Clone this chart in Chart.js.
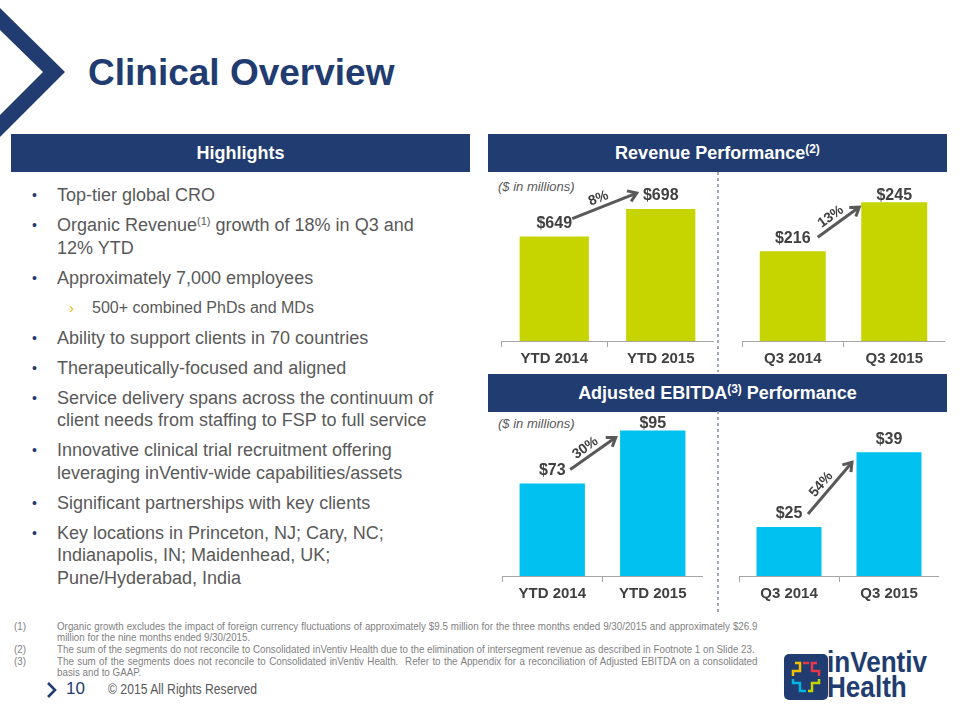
<!DOCTYPE html>
<html>
<head>
<meta charset="utf-8">
<script src="https://cdn.jsdelivr.net/npm/chart.js@4.4.0/dist/chart.umd.min.js"></script>
<style>
    body { margin: 0; width: 960px; height: 720px; position: relative; overflow: hidden; background: #fff; font-family: "Liberation Sans", Arial, sans-serif; }
    .abs { position: absolute; }
    .hdr { position: absolute; background: #213C70; color: #fff; font-weight: bold; font-size: 18px; text-align: center; height: 38px; line-height: 38px; }
    .hdr sup { font-size: 12px; vertical-align: 6px; line-height: 0; }
    .title { position: absolute; left: 88px; top: 54px; font-size: 37px; line-height: 37px; font-weight: bold; color: #213C70; white-space: nowrap; }
    .bullets { position: absolute; left: 0; top: 184px; width: 480px; color: #595959; font-size: 18px; }
    .b { position: relative; padding-left: 57px; line-height: 22.5px; margin-bottom: 7.5px; white-space: nowrap; }
    .b::before { content: "\2022"; position: absolute; left: 32px; top: 0; color: #213C70; font-size: 14px; }
    .b sup { font-size: 11px; vertical-align: 6px; line-height: 0; }
    .sub { position: relative; padding-left: 92px; line-height: 22.5px; margin-bottom: 7.5px; font-size: 16px; white-space: nowrap; }
    .sub::before { content: "\203A"; position: absolute; left: 69px; top: 0; color: #E8B800; font-size: 15px; }
    .unit { position: absolute; left: 498px; font-size: 13px; font-style: italic; color: #595959; line-height: 16px; }
    .fn { position: absolute; font-size: 11px; line-height: 12px; color: #7F7F7F; white-space: nowrap; transform: scaleX(0.89); transform-origin: 0 0; }
    .fn.j { width: 787px; text-align: justify; text-align-last: justify; white-space: normal; }
    canvas { position: absolute; }
</style>
</head>
<body>

<svg class="abs" style="left:0;top:0" width="80" height="140">
    <polygon points="0,8 65,72 0,137 0,115 43,72 0,30" fill="#213C70"/>
</svg>
<div class="title">Clinical Overview</div>

<div class="hdr" style="left:11px;top:134px;width:459px;">Highlights</div>
<div class="hdr" style="left:488px;top:134px;width:459px;">Revenue Performance<sup>(2)</sup></div>
<div class="hdr" style="left:488px;top:374px;width:459px;">Adjusted EBITDA<sup>(3)</sup> Performance</div>

<div class="bullets">
    <div class="b">Top-tier global CRO</div>
    <div class="b">Organic Revenue<sup>(1)</sup> growth of 18% in Q3 and<br>12% YTD</div>
    <div class="b">Approximately 7,000 employees</div>
    <div class="sub">500+ combined PhDs and MDs</div>
    <div class="b">Ability to support clients in 70 countries</div>
    <div class="b">Therapeutically-focused and aligned</div>
    <div class="b">Service delivery spans across the continuum of<br>client needs from staffing to FSP to full service</div>
    <div class="b">Innovative clinical trial recruitment offering<br>leveraging inVentiv-wide capabilities/assets</div>
    <div class="b">Significant partnerships with key clients</div>
    <div class="b">Key locations in Princeton, NJ; Cary, NC;<br>Indianapolis, IN; Maidenhead, UK;<br>Pune/Hyderabad, India</div>
</div>

<svg class="abs" style="left:712px;top:172px" width="12" height="440">
    <line x1="6" y1="0" x2="6" y2="200" stroke="#7F8CA3" stroke-width="1.5" stroke-dasharray="3,3"/>
    <line x1="6" y1="239" x2="6" y2="440" stroke="#7F8CA3" stroke-width="1.5" stroke-dasharray="3,3"/>
</svg>

<div class="unit" style="top:179px;">($ in millions)</div>
<div class="unit" style="top:416px;">($ in millions)</div>

<canvas id="revYtd" width="213" height="210" style="left:501px;top:161px;"></canvas>
<canvas id="revQ3" width="203" height="210" style="left:742px;top:161px;"></canvas>
<canvas id="ebYtd" width="201" height="210" style="left:502px;top:396px;"></canvas>
<canvas id="ebQ3" width="200" height="210" style="left:739px;top:396px;"></canvas>

<div class="fn" style="left:14px;top:620px;">(1)</div>
<div class="fn j" style="left:57px;top:620px;">Organic growth excludes the impact of foreign currency fluctuations of approximately $9.5 million for the three months ended 9/30/2015 and approximately $26.9</div>
<div class="fn" style="left:57px;top:631px;">million for the nine months ended 9/30/2015.</div>
<div class="fn" style="left:14px;top:643px;">(2)</div>
<div class="fn" style="left:57px;top:643px;">The sum of the segments do not reconcile to Consolidated inVentiv Health due to the elimination of intersegment revenue as described in Footnote 1 on Slide 23.</div>
<div class="fn" style="left:14px;top:655px;">(3)</div>
<div class="fn j" style="left:57px;top:655px;">The sum of the segments does not reconcile to Consolidated inVentiv Health.&nbsp; Refer to the Appendix for a reconciliation of Adjusted EBITDA on a consolidated</div>
<div class="fn" style="left:57px;top:666px;">basis and to GAAP.</div>

<svg class="abs" style="left:44px;top:680px" width="16" height="20">
    <polyline points="4,3 11,10 4,17" fill="none" stroke="#213C70" stroke-width="2.6"/>
</svg>
<div class="abs" style="left:66px;top:679px;font-size:17px;line-height:20px;color:#213C70;">10</div>
<div class="abs" style="left:108px;top:681px;font-size:14px;line-height:16px;color:#595959;white-space:nowrap;transform:scaleX(0.87);transform-origin:0 0;">© 2015 All Rights Reserved</div>

<svg class="abs" style="left:784px;top:654px" width="44" height="46">
    <rect x="0" y="0" width="44" height="46" rx="5" fill="#213C70"/>
    <polyline points="11,9 16,9 16,17 9,17 9,22" fill="none" stroke="#F2C200" stroke-width="2.5"/>
    <polyline points="33,9 28,9 28,17 35,17 35,22" fill="none" stroke="#E8374A" stroke-width="2.5"/>
    <polyline points="9,25 9,29 16,29 16,37 22,37" fill="none" stroke="#00B5E2" stroke-width="2.5"/>
    <polyline points="35,25 35,29 28,29 28,37 24,37" fill="none" stroke="#C4D600" stroke-width="2.5"/>
    <line x1="19" y1="9" x2="25" y2="9" stroke="#E8374A" stroke-width="2.5"/>
</svg>
<div class="abs" style="left:827px;top:649px;font-weight:bold;font-size:30px;line-height:25px;color:#213C70;white-space:nowrap;transform:scaleX(0.87);transform-origin:0 0;">inVentiv<br>Health</div>

<script>
// --- data ---
const revYtdLabels = ['YTD 2014', 'YTD 2015'];
const revYtdValues = [649, 698];
const revQ3Labels = ['Q3 2014', 'Q3 2015'];
const revQ3Values = [216, 245];
const ebYtdLabels = ['YTD 2014', 'YTD 2015'];
const ebYtdValues = [73, 95];
const ebQ3Labels = ['Q3 2014', 'Q3 2015'];
const ebQ3Values = [25, 39];
const revGrowth = ['8%', '13%'];
const ebGrowth = ['30%', '54%'];

const FONT = '"Liberation Sans", Arial, sans-serif';
const LIME = '#C6D500';
const CYAN = '#00C1F0';

// value labels, growth arrow and % text drawn on top of the bars
const barNotes = {
    id: 'barNotes',
    afterDatasetsDraw(chart, args, opts) {
        const ctx = chart.ctx;
        const meta = chart.getDatasetMeta(0);
        const vals = chart.data.datasets[0].data;
        const top = chart.chartArea.top;

        ctx.save();
        ctx.font = 'bold 16px ' + FONT;
        ctx.fillStyle = '#404040';
        ctx.textAlign = 'center';
        ctx.textBaseline = 'middle';
        meta.data.forEach((bar, i) => {
            const y = Math.max(bar.y - 13, top + opts.labelMin);
            ctx.fillText('$' + vals[i], bar.x, y);
        });

        const b0 = meta.data[0], b1 = meta.data[1];
        const x1 = b0.x + opts.start[0], y1 = b0.y + opts.start[1];
        const x2 = b1.x + opts.end[0], y2 = b1.y + opts.end[1];
        const ang = Math.atan2(y2 - y1, x2 - x1);

        ctx.strokeStyle = '#595959';
        ctx.lineWidth = 3;
        ctx.beginPath();
        ctx.moveTo(x1, y1);
        ctx.lineTo(x2 - Math.cos(ang) * 1.5, y2 - Math.sin(ang) * 1.5);
        ctx.stroke();
        ctx.lineJoin = 'miter';
        ctx.beginPath();
        ctx.moveTo(x2 - 10 * Math.cos(ang - 0.6), y2 - 10 * Math.sin(ang - 0.6));
        ctx.lineTo(x2, y2);
        ctx.lineTo(x2 - 10 * Math.cos(ang + 0.6), y2 - 10 * Math.sin(ang + 0.6));
        ctx.stroke();

        // growth text, rotated along the arrow
        const mx = (x1 + x2) / 2 - 3 * Math.cos(ang) + 9 * Math.sin(ang);
        const my = (y1 + y2) / 2 - 3 * Math.sin(ang) - 9 * Math.cos(ang);
        ctx.translate(mx, my);
        ctx.rotate(ang);
        ctx.font = 'bold 14px ' + FONT;
        ctx.fillStyle = '#404040';
        ctx.fillText(opts.growth, 0, 0);
        ctx.restore();
    }
};

function makeBarChart(id, labels, values, color, yMin, yMax, notes) {
    return new Chart(document.getElementById(id), {
        type: 'bar',
        data: {
            labels: labels,
            datasets: [{
                data: values,
                backgroundColor: color,
                borderWidth: 0,
                barPercentage: 0.65,
                categoryPercentage: 1.0
            }]
        },
        options: {
            responsive: false,
            animation: false,
            devicePixelRatio: 1,
            layout: { padding: { top: 20, left: 0, right: 0, bottom: 0 } },
            scales: {
                x: {
                    grid: { display: true, drawOnChartArea: false, drawTicks: true, tickLength: 6, color: '#A6A6A6' },
                    border: { display: true, color: '#A6A6A6', width: 1 },
                    ticks: { color: '#404040', padding: 3, font: { family: FONT, size: 15, weight: 'bold' } }
                },
                y: { display: false, min: yMin, max: yMax }
            },
            plugins: {
                legend: { display: false },
                tooltip: { enabled: false },
                barNotes: notes
            }
        },
        plugins: [barNotes]
    });
}

makeBarChart('revYtd', revYtdLabels, revYtdValues, LIME, 463, 748,
    { growth: revGrowth[0], labelMin: 15, start: [18, -18], end: [-24, -16] });
makeBarChart('revQ3', revQ3Labels, revQ3Values, LIME, 163, 257.5,
    { growth: revGrowth[1], labelMin: 15, start: [25, -14], end: [-35, 5] });
makeBarChart('ebYtd', ebYtdLabels, ebYtdValues, CYAN, 34.7, 101,
    { growth: ebGrowth[0], labelMin: 8, start: [18, -14], end: [-37, 7] });
makeBarChart('ebQ3', ebQ3Labels, ebQ3Values, CYAN, 15.8, 45.8,
    { growth: ebGrowth[1], labelMin: 8, start: [19, -13], end: [-37, 10] });
</script>
</body>
</html>
